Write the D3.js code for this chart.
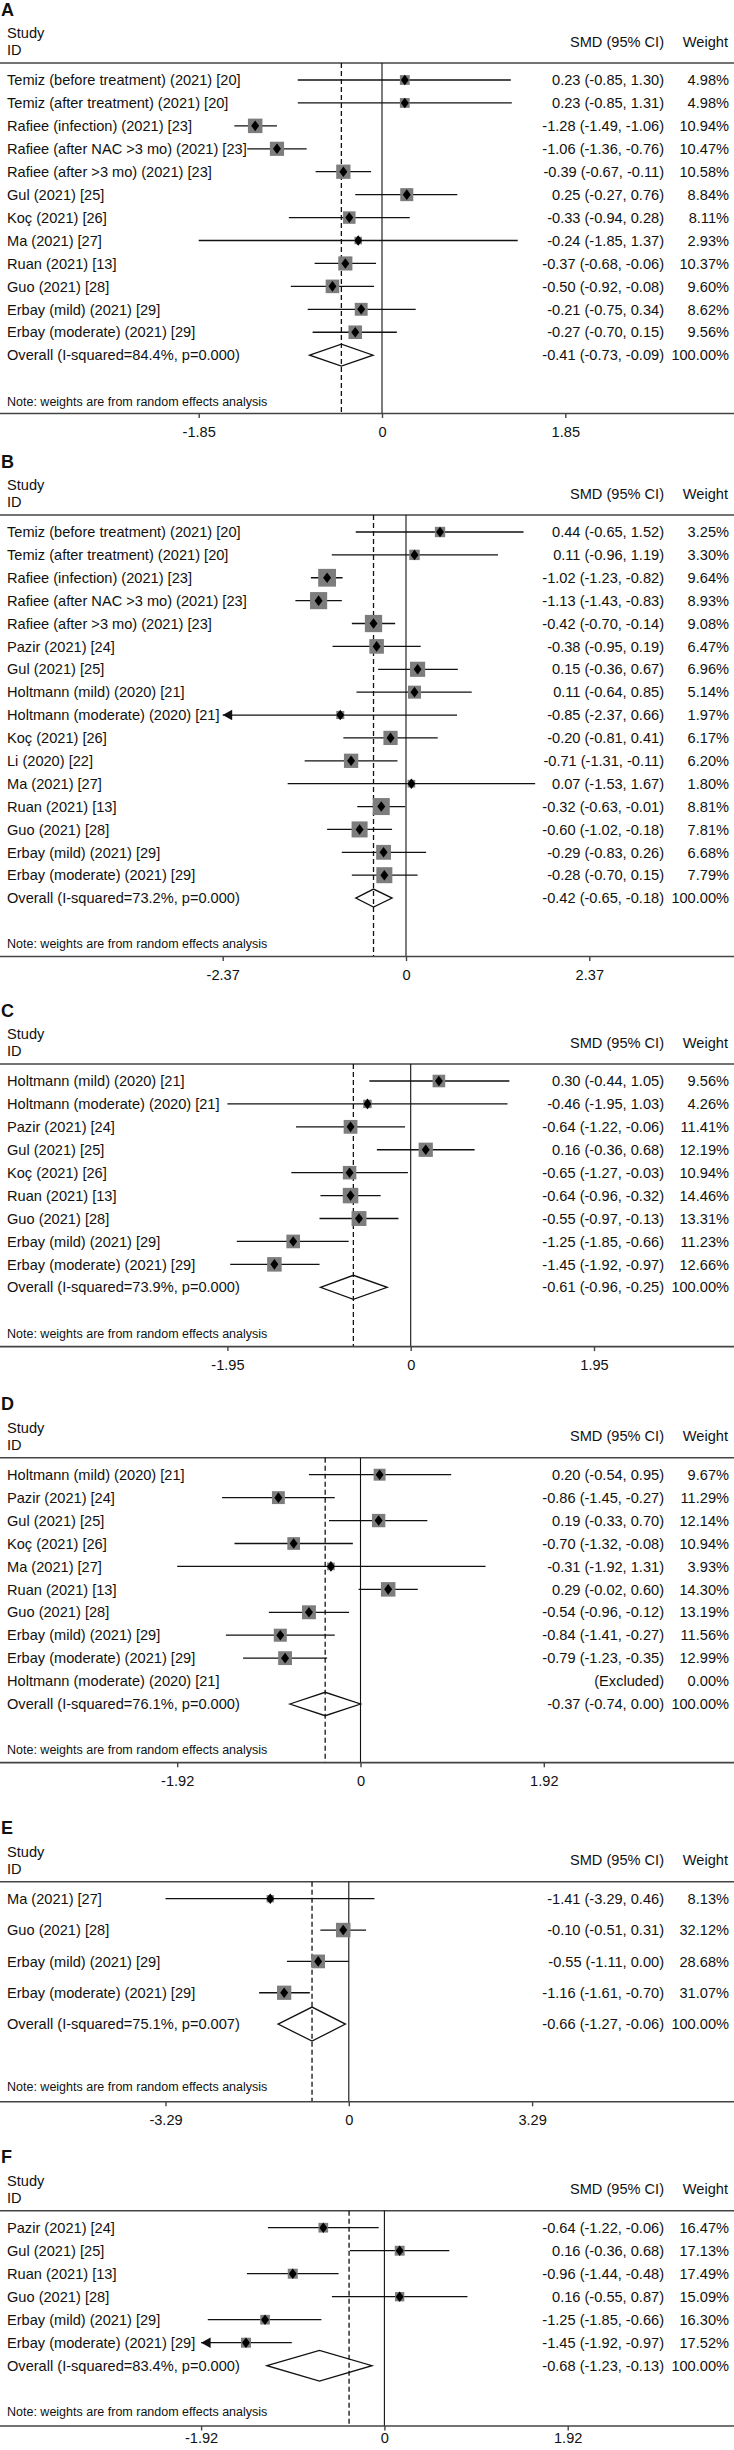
<!DOCTYPE html>
<html><head><meta charset="utf-8">
<script src="https://cdn.jsdelivr.net/npm/d3@7"></script>
<style>
html,body{margin:0;padding:0;background:#fff;}
svg{display:block;}
text{font-family:"Liberation Sans", Arial, Helvetica, sans-serif; fill:#111;}
</style>
</head><body>
<svg id="chart" width="734" height="2450"></svg>
<script>
// ---------------- DATA ----------------
const panelLabels = ["A", "B", "C", "D", "E", "F"];

const studiesA = ["Temiz (before treatment) (2021) [20]", "Temiz (after treatment) (2021) [20]", "Rafiee (infection) (2021) [23]", "Rafiee (after NAC >3 mo) (2021) [23]", "Rafiee (after >3 mo) (2021) [23]", "Gul (2021) [25]", "Koç (2021) [26]", "Ma (2021) [27]", "Ruan (2021) [13]", "Guo (2021) [28]", "Erbay (mild) (2021) [29]", "Erbay (moderate) (2021) [29]"];
const smdA = [0.23, 0.23, -1.28, -1.06, -0.39, 0.25, -0.33, -0.24, -0.37, -0.50, -0.21, -0.27];
const loA = [-0.85, -0.85, -1.49, -1.36, -0.67, -0.27, -0.94, -1.85, -0.68, -0.92, -0.75, -0.70];
const hiA = [1.30, 1.31, -1.06, -0.76, -0.11, 0.76, 0.28, 1.37, -0.06, -0.08, 0.34, 0.15];
const weightA = [4.98, 4.98, 10.94, 10.47, 10.58, 8.84, 8.11, 2.93, 10.37, 9.60, 8.62, 9.56];

const studiesB = ["Temiz (before treatment) (2021) [20]", "Temiz (after treatment) (2021) [20]", "Rafiee (infection) (2021) [23]", "Rafiee (after NAC >3 mo) (2021) [23]", "Rafiee (after >3 mo) (2021) [23]", "Pazir (2021) [24]", "Gul (2021) [25]", "Holtmann (mild) (2020) [21]", "Holtmann (moderate) (2020) [21]", "Koç (2021) [26]", "Li (2020) [22]", "Ma (2021) [27]", "Ruan (2021) [13]", "Guo (2021) [28]", "Erbay (mild) (2021) [29]", "Erbay (moderate) (2021) [29]"];
const smdB = [0.44, 0.11, -1.02, -1.13, -0.42, -0.38, 0.15, 0.11, -0.85, -0.20, -0.71, 0.07, -0.32, -0.60, -0.29, -0.28];
const loB = [-0.65, -0.96, -1.23, -1.43, -0.70, -0.95, -0.36, -0.64, -2.37, -0.81, -1.31, -1.53, -0.63, -1.02, -0.83, -0.70];
const hiB = [1.52, 1.19, -0.82, -0.83, -0.14, 0.19, 0.67, 0.85, 0.66, 0.41, -0.11, 1.67, -0.01, -0.18, 0.26, 0.15];
const weightB = [3.25, 3.30, 9.64, 8.93, 9.08, 6.47, 6.96, 5.14, 1.97, 6.17, 6.20, 1.80, 8.81, 7.81, 6.68, 7.79];

const studiesC = ["Holtmann (mild) (2020) [21]", "Holtmann (moderate) (2020) [21]", "Pazir (2021) [24]", "Gul (2021) [25]", "Koç (2021) [26]", "Ruan (2021) [13]", "Guo (2021) [28]", "Erbay (mild) (2021) [29]", "Erbay (moderate) (2021) [29]"];
const smdC = [0.30, -0.46, -0.64, 0.16, -0.65, -0.64, -0.55, -1.25, -1.45];
const loC = [-0.44, -1.95, -1.22, -0.36, -1.27, -0.96, -0.97, -1.85, -1.92];
const hiC = [1.05, 1.03, -0.06, 0.68, -0.03, -0.32, -0.13, -0.66, -0.97];
const weightC = [9.56, 4.26, 11.41, 12.19, 10.94, 14.46, 13.31, 11.23, 12.66];

const studiesD = ["Holtmann (mild) (2020) [21]", "Pazir (2021) [24]", "Gul (2021) [25]", "Koç (2021) [26]", "Ma (2021) [27]", "Ruan (2021) [13]", "Guo (2021) [28]", "Erbay (mild) (2021) [29]", "Erbay (moderate) (2021) [29]", "Holtmann (moderate) (2020) [21]"];
const smdD = [0.20, -0.86, 0.19, -0.70, -0.31, 0.29, -0.54, -0.84, -0.79, null];
const loD = [-0.54, -1.45, -0.33, -1.32, -1.92, -0.02, -0.96, -1.41, -1.23, null];
const hiD = [0.95, -0.27, 0.70, -0.08, 1.31, 0.60, -0.12, -0.27, -0.35, null];
const weightD = [9.67, 11.29, 12.14, 10.94, 3.93, 14.30, 13.19, 11.56, 12.99, 0.00];

const studiesE = ["Ma (2021) [27]", "Guo (2021) [28]", "Erbay (mild) (2021) [29]", "Erbay (moderate) (2021) [29]"];
const smdE = [-1.41, -0.10, -0.55, -1.16];
const loE = [-3.29, -0.51, -1.11, -1.61];
const hiE = [0.46, 0.31, 0.00, -0.70];
const weightE = [8.13, 32.12, 28.68, 31.07];

const studiesF = ["Pazir (2021) [24]", "Gul (2021) [25]", "Ruan (2021) [13]", "Guo (2021) [28]", "Erbay (mild) (2021) [29]", "Erbay (moderate) (2021) [29]"];
const smdF = [-0.64, 0.16, -0.96, 0.16, -1.25, -1.45];
const loF = [-1.22, -0.36, -1.44, -0.55, -1.85, -1.92];
const hiF = [-0.06, 0.68, -0.48, 0.87, -0.66, -0.97];
const weightF = [16.47, 17.13, 17.49, 15.09, 16.30, 17.52];

// CI truncated at the left axis limit (drawn with an arrow)
const arrowLeftIdx = [[], [8], [], [], [], [5]];

// overall (random effects) estimates
const overallSmd = [-0.41, -0.42, -0.61, -0.37, -0.66, -0.68];
const overallLo = [-0.73, -0.65, -0.96, -0.74, -1.27, -1.23];
const overallHi = [-0.09, -0.18, -0.25, 0.00, -0.06, -0.13];
const overallI2 = ["84.4", "73.2", "73.9", "76.1", "75.1", "83.4"];
const overallP = ["0.000", "0.000", "0.000", "0.000", "0.007", "0.000"];
// dashed reference line as drawn in each panel
const refLine = [-0.41, -0.42, -0.61, -0.37, -0.66, -0.37];
// symmetric axis tick limit (ticks: -t, 0, t)
const tickLimit = [1.85, 2.37, 1.95, 1.92, 3.29, 1.92];

const noteText = "Note: weights are from random effects analysis";

// ---------------- LAYOUT ----------------
const W = 734;
const headerY = [63, 515, 1064, 1457.7, 1881.7, 2210.7];
const rowStep = [22.93, 22.88, 22.92, 22.93, 31.35, 23];
const zeroX = [382, 406, 410.7, 360.5, 348.8, 384.4];
const tickPx = 183.3;
const diamondHalf = [11, 9, 12, 11.7, 17, 15.3];
const boxMax = [14.5, 17.8, 15.5, 14.5, 14.5, 10];
const axisGap = [12.5, 12.7, 13.5, 12.8, 15, 14.3];
const tickPad = [8.5, 8.5, 8.5, 8.5, 8.5, 2.5];
const valueRight = 664, weightRight = 729, leftX = 7;
const FS = 14.6;

const panels = [
  {studies: studiesA, smd: smdA, lo: loA, hi: hiA, w: weightA},
  {studies: studiesB, smd: smdB, lo: loB, hi: hiB, w: weightB},
  {studies: studiesC, smd: smdC, lo: loC, hi: hiC, w: weightC},
  {studies: studiesD, smd: smdD, lo: loD, hi: hiD, w: weightD},
  {studies: studiesE, smd: smdE, lo: loE, hi: hiE, w: weightE},
  {studies: studiesF, smd: smdF, lo: loF, hi: hiF, w: weightF}
];

const f2 = v => v.toFixed(2);
const svg = d3.select("#chart");
svg.append("rect").attr("width", W).attr("height", 2450).attr("fill", "#fff");

panels.forEach((p, i) => {
  const g = svg.append("g");
  const H = headerY[i];
  const n = p.studies.length;
  const yS = d3.scaleLinear().domain([0, 1]).range([H + 17, H + 17 + rowStep[i]]);
  const overallY = yS(n);
  const noteY = yS(n + 2);
  const axisY = noteY + axisGap[i];
  const R = tickLimit[i];
  const x = d3.scaleLinear().domain([-R, R]).range([zeroX[i] - tickPx, zeroX[i] + tickPx]);

  // panel letter
  g.append("text").attr("x", 1).attr("y", H - 47.5).attr("font-size", 18).attr("font-weight", "bold").text(panelLabels[i]);
  // header
  g.append("text").attr("x", leftX).attr("y", H - 25).attr("font-size", FS).text("Study");
  g.append("text").attr("x", leftX).attr("y", H - 8).attr("font-size", FS).text("ID");
  g.append("text").attr("x", valueRight).attr("y", H - 16.5).attr("font-size", FS).attr("text-anchor", "end").text("SMD (95% CI)");
  g.append("text").attr("x", weightRight - 1).attr("y", H - 16.5).attr("font-size", FS).attr("text-anchor", "end").text("Weight");

  // header rule
  g.append("line").attr("x1", 0).attr("x2", W).attr("y1", H).attr("y2", H).attr("stroke", "#444").attr("stroke-width", 1.6);

  // vertical reference lines
  g.append("line").attr("x1", x(0)).attr("x2", x(0)).attr("y1", H).attr("y2", axisY).attr("stroke", "#111").attr("stroke-width", 1.1);
  g.append("line").attr("x1", x(refLine[i])).attr("x2", x(refLine[i])).attr("y1", H).attr("y2", axisY)
    .attr("stroke", "#111").attr("stroke-width", 1.3).attr("stroke-dasharray", "5,3");

  // axis
  const axis = d3.axisBottom(x).tickValues([-R, 0, R]).tickSize(4.5).tickPadding(tickPad[i])
    .tickFormat(v => v === 0 ? "0" : f2(v));
  const ag = g.append("g").attr("transform", `translate(0,${axisY})`).call(axis);
  ag.select(".domain").remove();
  ag.selectAll(".tick line").attr("stroke", "#444").attr("stroke-width", 1.4);
  ag.selectAll(".tick text").attr("font-size", FS).attr("font-family", null).attr("fill", "#111");
  g.append("line").attr("x1", 0).attr("x2", W).attr("y1", axisY).attr("y2", axisY).attr("stroke", "#444").attr("stroke-width", 1.6);

  const maxW = d3.max(p.w);
  const rows = p.studies.map((s, j) => ({
    name: s, smd: p.smd[j], lo: p.lo[j], hi: p.hi[j], w: p.w[j], y: yS(j),
    arrow: arrowLeftIdx[i].includes(j)
  }));

  // row texts
  rows.forEach(r => {
    g.append("text").attr("x", leftX).attr("y", r.y + 5.2).attr("font-size", FS).text(r.name);
    g.append("text").attr("x", valueRight).attr("y", r.y + 5.2).attr("font-size", FS).attr("text-anchor", "end")
      .text(r.smd === null ? "(Excluded)" : `${f2(r.smd)} (${f2(r.lo)}, ${f2(r.hi)})`);
    g.append("text").attr("x", weightRight).attr("y", r.y + 5.2).attr("font-size", FS).attr("text-anchor", "end")
      .text(f2(r.w) + "%");
  });

  const est = rows.filter(r => r.smd !== null);
  // CI lines
  g.selectAll(".ci").data(est).enter().append("line")
    .attr("x1", r => x(r.lo)).attr("x2", r => x(r.hi)).attr("y1", r => r.y).attr("y2", r => r.y)
    .attr("stroke", "#111").attr("stroke-width", 1.3);
  // arrows
  g.selectAll(".arr").data(est.filter(r => r.arrow)).enter().append("path")
    .attr("d", r => `M${x(r.lo)},${r.y} L${x(r.lo) + 9.5},${r.y - 5.3} L${x(r.lo) + 9.5},${r.y + 5.3} Z`)
    .attr("fill", "#111");
  // weight boxes
  g.selectAll(".box").data(est).enter().append("rect")
    .attr("x", r => x(r.smd) - boxMax[i] * Math.sqrt(r.w / maxW) / 2)
    .attr("y", r => r.y - boxMax[i] * Math.sqrt(r.w / maxW) / 2)
    .attr("width", r => boxMax[i] * Math.sqrt(r.w / maxW))
    .attr("height", r => boxMax[i] * Math.sqrt(r.w / maxW))
    .attr("fill", "#7d7d7d");
  // point markers
  g.selectAll(".pt").data(est).enter().append("path")
    .attr("d", r => `M${x(r.smd)},${r.y - 5.3} L${x(r.smd) + 4},${r.y} L${x(r.smd)},${r.y + 5.3} L${x(r.smd) - 4},${r.y} Z`)
    .attr("fill", "#000");

  // overall row
  g.append("text").attr("x", leftX).attr("y", overallY + 5.2).attr("font-size", FS)
    .text(`Overall (I-squared=${overallI2[i]}%, p=${overallP[i]})`);
  g.append("text").attr("x", valueRight).attr("y", overallY + 5.2).attr("font-size", FS).attr("text-anchor", "end")
    .text(`${f2(overallSmd[i])} (${f2(overallLo[i])}, ${f2(overallHi[i])})`);
  g.append("text").attr("x", weightRight).attr("y", overallY + 5.2).attr("font-size", FS).attr("text-anchor", "end")
    .text("100.00%");
  const h = diamondHalf[i];
  g.append("path")
    .attr("d", `M${x(overallLo[i])},${overallY} L${x(overallSmd[i])},${overallY - h} L${x(overallHi[i])},${overallY} L${x(overallSmd[i])},${overallY + h} Z`)
    .attr("fill", "none").attr("stroke", "#111").attr("stroke-width", 1.3);

  // note
  g.append("text").attr("x", leftX).attr("y", noteY + 4.5).attr("font-size", 12.5).text(noteText);
});
</script>
</body></html>
